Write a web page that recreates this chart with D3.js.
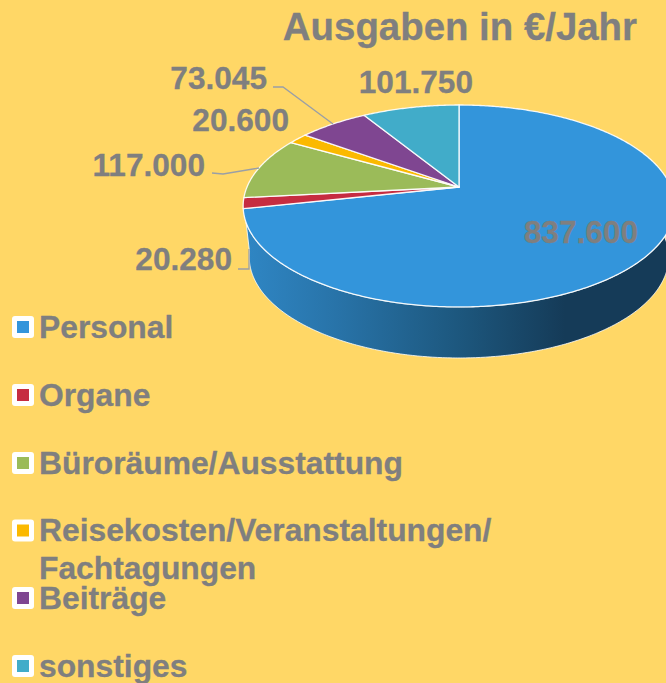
<!DOCTYPE html>
<html><head><meta charset="utf-8">
<script src="https://cdn.jsdelivr.net/npm/d3@7/dist/d3.min.js"></script>
<style>html,body{margin:0;padding:0;overflow:hidden;background:#FFD766}svg{display:block}text{font-family:"Liberation Sans",Arial,sans-serif;font-weight:700;fill:#7F7F7F;stroke:#7F7F7F;stroke-width:.3}</style>
</head><body><svg id="c" width="666" height="683"></svg>
<script>
const categories = ["Personal","Organe","Büroräume/Ausstattung","Reisekosten/Veranstaltungen/\nFachtagungen","Beiträge","sonstiges"];
const values = [837600,20280,117000,20600,73045,101750];
const valueLabels = ["837.600","20.280","117.000","20.600","73.045","101.750"];
const colors = ["#3395DB","#C62C41","#9BBB59","#FBB900","#7F4691","#41ACC9"];
const title = "Ausgaben in €/Jahr";

// layout (separate from data)
const labelPos = [[638,243],[232,270],[205,176],[289,131],[267,89],[473,93]];
const leaders = [null,[[238,269],[249,269],[249,249]],[[212,173],[223,174],[259,168]],null,[[273,87],[283,87],[333,124]],null];
const legendY = [327,395,463,530.5,598,666];

const svg = d3.select("#c");
const cx=459, R=212, k=0.188, yApex=187, yA=-62.25, depth=51, Rb=206;
const proj=(a,r=R,dy=0)=>{const u=Math.sin(a),v=Math.cos(a),d=1+k*v;return [cx+r*u/d,(yA*v+yApex)/d+dy];};
const arcPts=(a0,a1,r=R,dy=0)=>{const n=Math.max(2,Math.ceil(Math.abs(a1-a0)/0.01));
  return d3.range(n+1).map(i=>proj(a0+(a1-a0)*i/n,r,dy));};
const line=d3.line();
const deg=Math.PI/180;

const defs=svg.append("defs");
const g=defs.append("linearGradient").attr("id","wall").attr("gradientUnits","userSpaceOnUse")
  .attr("x1",245).attr("x2",666).attr("y1",0).attr("y2",0);
[[0,"#2F86C4"],[0.22,"#2873A8"],[0.5,"#1D587F"],[0.76,"#153B58"],[1,"#153B58"]]
  .forEach(([o,c])=>g.append("stop").attr("offset",o).attr("stop-color",c));

const pie=d3.pie().sort(null).value(d=>d);
const arcs=pie(values);

// side wall: visible front rim, silhouette to silhouette
const wall=[...arcPts(90*deg,250*deg),...arcPts(262*deg,90*deg,Rb,depth)];
svg.append("path").attr("d",line(wall)+"Z").attr("fill","url(#wall)").attr("stroke","#fff").attr("stroke-width",1).attr("stroke-opacity",.8);

// top faces
svg.append("g").selectAll("path").data(arcs).join("path")
  .attr("d",d=>line([proj(Math.PI/2,0),...arcPts(d.startAngle,d.endAngle)])+"Z")
  .attr("fill",(d,i)=>colors[i]).attr("stroke","#fff").attr("stroke-opacity",.9).attr("stroke-width",1.3).attr("stroke-linejoin","round");

// leaders
svg.append("g").selectAll("path").data(leaders.filter(Boolean)).join("path")
  .attr("d",d=>line(d)).attr("fill","none").attr("stroke","#9A9FA6").attr("stroke-width",1.3);

// labels
svg.append("g").selectAll("text").data(valueLabels).join("text")
  .attr("x",(d,i)=>labelPos[i][0]).attr("y",(d,i)=>labelPos[i][1])
  .attr("text-anchor","end").attr("font-size",31.6).text(d=>d);

svg.append("text").attr("x",637).attr("y",39.5).attr("text-anchor","end").attr("font-size",38.4).text(title);

// legend
const lg=svg.append("g").selectAll("g").data(categories).join("g")
  .attr("transform",(d,i)=>`translate(0,${legendY[i]})`);
lg.append("rect").attr("x",12).attr("y",-11).attr("width",22).attr("height",22).attr("rx",3).attr("fill","#fff");
lg.append("rect").attr("x",17).attr("y",-6).attr("width",12).attr("height",12).attr("fill",(d,i)=>colors[i]);
lg.append("text").attr("x",39).attr("y",10.5).attr("font-size",31.8)
  .selectAll("tspan").data(d=>d.split("\n")).join("tspan").attr("x",39).attr("dy",(d,i)=>i?37.5:0).text(d=>d);
</script></body></html>
